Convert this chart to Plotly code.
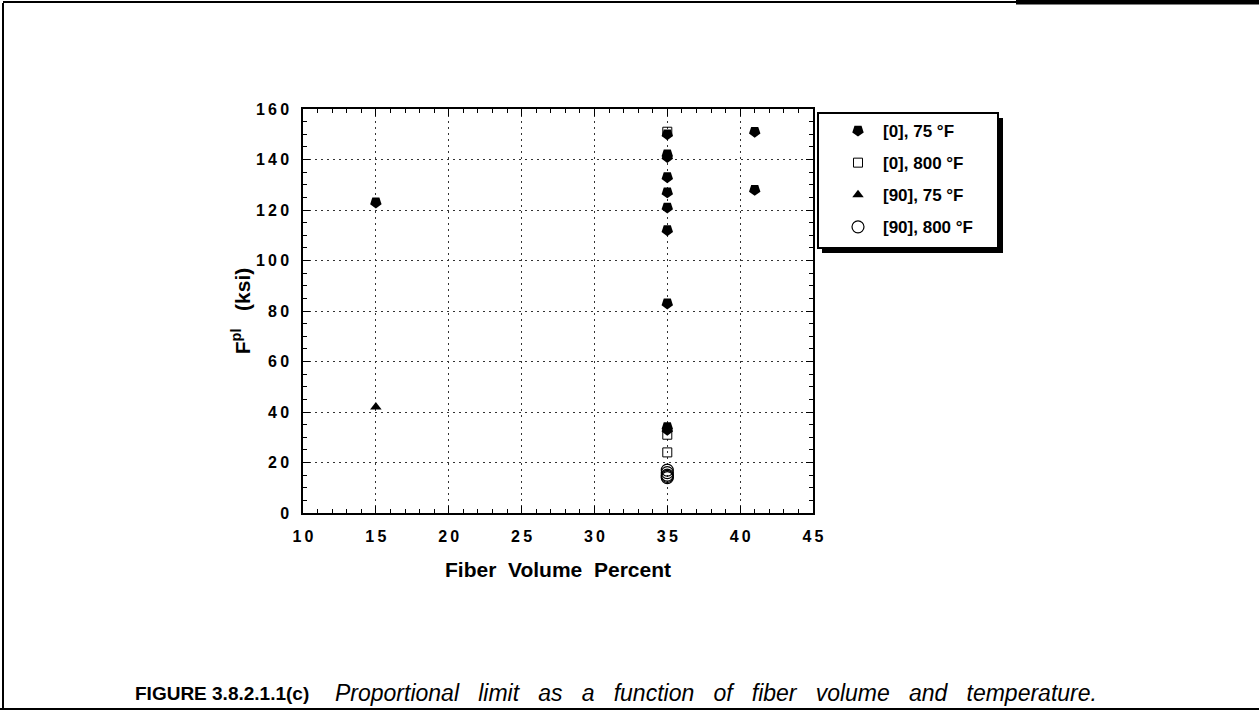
import plotly.graph_objects as go

# series: fiber volume (%) vs proportional limit (ksi)
fiber_0_75 = [15, 35, 35, 35, 35, 35, 35, 35, 35, 35, 35, 41, 41]
fpl_0_75 = [123, 150, 141, 142, 133, 127, 121, 112, 83, 34, 33, 151, 128]

fiber_0_800 = [35, 35, 35]
fpl_0_800 = [151, 31, 24]

fiber_90_75 = [15]
fpl_90_75 = [42]

fiber_90_800 = [35, 35, 35, 35, 35]
fpl_90_800 = [17, 16, 15, 14.5, 14]

series_names = ["[0], 75 °F", "[0], 800 °F", "[90], 75 °F", "[90], 800 °F"]

x_ticks = [10, 15, 20, 25, 30, 35, 40, 45]
y_ticks = [0, 20, 40, 60, 80, 100, 120, 140, 160]

W, H = 1259, 711
L, R, T, B = 303, 446, 109, 198
FONT = "Liberation Sans, Arial, sans-serif"
THIN = "\u2009"


# pixel -> paper coordinates (for the page frame and legend box)
def px(x):
    return (x - L) / (W - L - R)


def py(y):
    return (H - B - y) / (H - T - B)


# tick labels in the original are loosely letter-spaced
def spaced(v):
    return THIN.join(str(v))


fig = go.Figure()

fig.add_trace(go.Scatter(x=fiber_0_75, y=fpl_0_75, mode="markers", name=series_names[0],
                         legendgroup="a",
                         marker=dict(symbol="pentagon", angle=180, size=12, color="black")))
fig.add_trace(go.Scatter(x=fiber_0_800, y=fpl_0_800, mode="markers", name=series_names[1],
                         legendgroup="b",
                         marker=dict(symbol="square-open", size=9, color="black",
                                     line=dict(width=1, color="black"))))
fig.add_trace(go.Scatter(x=fiber_90_75, y=fpl_90_75, mode="markers", name=series_names[2],
                         legendgroup="c",
                         marker=dict(symbol="triangle-up", size=10, color="black")))
fig.add_trace(go.Scatter(x=fiber_90_800, y=fpl_90_800, mode="markers", name=series_names[3],
                         legendgroup="d",
                         marker=dict(symbol="circle-open", size=12, color="black",
                                     line=dict(width=1.2, color="black"))))

axis_common = dict(
    showline=True, linecolor="black", linewidth=1.5, mirror="ticks",
    ticks="inside", ticklen=7, tickwidth=1.2, tickcolor="black",
    showgrid=True, gridcolor="#333", gridwidth=1, griddash="2px,4px",
    zeroline=False,
    tickfont=dict(family=FONT, size=16, color="black", weight="bold"),
    title_font=dict(family=FONT, size=21, color="black", weight="bold"),
)

fig.update_xaxes(range=[10, 45], tickvals=x_ticks, ticktext=[spaced(v) for v in x_ticks],
                 minor=dict(dtick=1, ticks="inside", ticklen=4, tickcolor="black", showgrid=False),
                 ticklabelstandoff=8,
                 title=dict(text="Fiber  Volume  Percent", standoff=18,
                            font=dict(family=FONT, size=22, color="black", weight="bold")),
                 **axis_common)
fig.update_yaxes(range=[0, 160], tickvals=y_ticks, ticktext=[spaced(v) for v in y_ticks],
                 minor=dict(dtick=5, ticks="inside", ticklen=4, tickcolor="black", showgrid=False),
                 ticklabelstandoff=9,
                 title=dict(text="F<sup>pl</sup>   (ksi)", standoff=0),
                 **axis_common)

shapes = []
# legend box with drop shadow
shapes.append(dict(type="rect", xref="paper", yref="paper",
                   x0=px(822), x1=px(1003), y0=py(253), y1=py(118),
                   fillcolor="black", line=dict(width=0)))
shapes.append(dict(type="rect", xref="paper", yref="paper",
                   x0=px(818), x1=px(998), y0=py(248), y1=py(113),
                   fillcolor="white", line=dict(width=2, color="black")))
# page frame
shapes.append(dict(type="line", xref="paper", yref="paper",
                   x0=px(3), x1=px(3), y0=py(3), y1=py(710), line=dict(width=2, color="black")))
shapes.append(dict(type="line", xref="paper", yref="paper",
                   x0=px(3), x1=px(1016), y0=py(2), y1=py(2), line=dict(width=2, color="black")))
shapes.append(dict(type="line", xref="paper", yref="paper",
                   x0=px(1016), x1=px(1259), y0=py(2), y1=py(2), line=dict(width=5, color="black")))
shapes.append(dict(type="line", xref="paper", yref="paper",
                   x0=px(0), x1=px(1259), y0=py(709), y1=py(709), line=dict(width=2, color="black")))

caption_words = "Proportional limit as a function of fiber volume and temperature.".split()
caption_italic = "&nbsp;&nbsp; ".join(caption_words)

fig.update_layout(
    width=W, height=H,
    margin=dict(l=L, r=R, t=T, b=B),
    paper_bgcolor="white", plot_bgcolor="white",
    font=dict(family=FONT, color="black"),
    showlegend=True,
    legend=dict(x=px(833), y=py(113), xanchor="left", yanchor="top",
                bgcolor="rgba(0,0,0,0)", borderwidth=0, tracegroupgap=7, itemwidth=40,
                font=dict(family=FONT, size=17, color="black", weight="bold")),
    shapes=shapes,
    annotations=[
        dict(xref="paper", yref="paper", x=px(133), y=py(693), xanchor="left", yanchor="middle",
             showarrow=False, text="<b>FIGURE 3.8.2.1.1(c)</b>",
             font=dict(family=FONT, size=19, color="black")),
        dict(xref="paper", yref="paper", x=px(333), y=py(693), xanchor="left", yanchor="middle",
             showarrow=False, text="<i>" + caption_italic + "</i>",
             font=dict(family=FONT, size=23, color="black")),
    ],
)

fig.write_html("out.html", config={"displayModeBar": False},
               post_script="document.body.style.margin='0';"
                           "document.documentElement.style.overflow='hidden';")
